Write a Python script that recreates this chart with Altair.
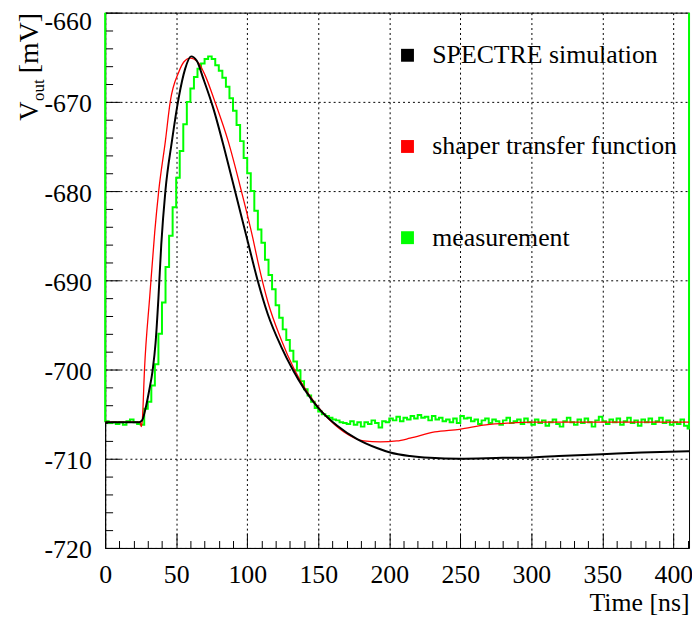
import altair as alt
import pandas as pd

series_names = ["SPECTRE simulation", "shaper transfer function", "measurement"]
series_colors = ["#000000", "#ff0000", "#00ff00"]

# SPECTRE simulation (black)
spectre_t = [0, 24, 26, 28.4, 30.7, 33.5, 35.5, 37.5, 39.5, 42.4, 47, 51.7, 56.3, 60.5, 64.5,
             69.1, 76.1, 84.3, 92.4, 100.6, 107.5, 114.5, 123.8, 132, 140.2, 150.6, 163.4,
             177.4, 191.3, 200.6, 214.6, 228.6, 249.5, 279.8, 300.8, 319.3, 349.6, 377.6, 411]
spectre_v = [-705.9, -705.9, -705.7, -704.4, -702.6, -700, -697, -692, -686, -680, -674.4,
             -669.6, -666.3, -664.9, -665.4, -667.4, -670.7, -675.5, -680.6, -685.8, -690.1,
             -693.8, -697.4, -700, -702.2, -704.4, -706.3, -707.8, -708.8, -709.3, -709.7,
             -709.9, -710, -709.9, -709.85, -709.7, -709.5, -709.3, -709.15]

# shaper transfer function (red)
shaper_t = [0, 24.5, 25.5, 26.2, 27.7, 31.4, 34.9, 37.7, 42.4, 45.8, 51.7, 55.5, 59.8, 65.6,
            70.3, 77.3, 86.6, 95.9, 104, 107.5, 114.5, 123.8, 133.2, 142.5, 154.1, 168.1,
            182, 193.7, 205.3, 214.6, 232, 249.5, 268, 284.4, 300.8, 411]
shaper_v = [-705.9, -705.9, -706.4, -705.6, -700, -691.8, -684.6, -680, -674.4, -670, -666.7,
            -665.5, -665.1, -665.6, -667, -670, -674.4, -680, -685.3, -687.9, -692.4, -696.6,
            -700, -702.6, -705, -707, -708, -708.1, -708, -707.7, -707, -706.7, -706.2, -706,
            -705.9, -705.9]

# measurement histogram (green), 2.5 ns bins starting at 0 ns
meas_bin = 2.5
meas_v = [
    -705.8, -706.0, -705.9, -706.1, -705.9, -706.2, -705.8, -705.6, -705.9, -706.1,
    -706.2, -704.4, -703.6, -701.8, -699.4, -696.0, -692.5, -688.5, -685.0, -681.8,
    -678.5, -675.5, -672.5, -670.0, -668.5, -667.2, -666.3, -665.7, -665.2, -664.9,
    -665.2, -665.9, -666.5, -667.3, -668.3, -669.6, -671.0, -672.6, -674.4, -676.3,
    -678.0, -680.0, -682.2, -684.3, -685.8, -687.7, -689.4, -691.0, -692.8, -694.2,
    -695.5, -696.7, -697.9, -699.1, -700.1, -701.3, -702.2, -702.9, -703.6, -704.3,
    -704.7, -705.0, -705.2, -705.4, -705.6, -705.7, -705.9, -706.0, -706.1, -705.8,
    -706.2, -705.9, -706.4, -705.9, -706.1, -705.7, -706.0, -706.5, -705.8, -705.9,
    -705.5, -705.7, -705.3, -705.8, -705.4, -705.6, -705.2, -705.5, -705.1, -705.4,
    -705.3, -705.7, -705.2, -705.6, -705.4, -705.8, -705.6, -705.9, -705.5, -706.0,
    -705.2, -705.5, -705.4, -705.8, -705.6, -706.1, -705.7, -705.5, -706.0, -705.6,
    -705.8, -706.2, -705.7, -705.4, -706.0, -705.8, -705.6, -706.1, -705.5, -705.9,
    -706.2, -705.6, -706.0, -705.7, -706.3, -705.9, -705.6, -706.1, -706.4, -705.8,
    -705.4, -705.9, -706.2, -705.6, -706.0, -705.5, -705.9, -706.4, -705.7, -705.3,
    -705.8, -706.1, -705.6, -705.9, -705.5, -706.2, -705.8, -705.4, -706.0, -705.7,
    -706.3, -705.6, -705.9, -705.5, -706.1, -705.8, -705.4, -706.0, -705.7, -706.2,
    -705.9, -706.1, -705.6, -706.3, -706.6,
]
x_max = 411
y_min, y_max = -720, -660

x_ticks = list(range(0, 411, 10))
y_ticks = list(range(-720, -659, 2))

# ---- build tables ----
df_black = pd.DataFrame({"t": spectre_t, "v": spectre_v, "series": series_names[0]})
df_black["i"] = range(len(df_black))
df_red = pd.DataFrame({"t": shaper_t, "v": shaper_v, "series": series_names[1]})
df_red["i"] = range(len(df_red))
# ROOT-style histogram outline: starts and ends at zero (clamped to the top of the frame)
mt = [0.0] + [k * meas_bin for k in range(len(meas_v))] + [x_max]
mv = [0.0] + meas_v + [0.0]
df_green = pd.DataFrame({"t": mt, "v": mv, "series": series_names[2]})
df_green["i"] = range(len(df_green))

SERIF = "Liberation Serif"

color_scale = alt.Scale(domain=series_names, range=series_colors)
x_scale = alt.Scale(domain=[0, x_max], nice=False, zero=False)
y_scale = alt.Scale(domain=[y_min, y_max], nice=False, zero=False, clamp=True)

x_axis = alt.Axis(
    values=x_ticks, tickCount=200,
    labelExpr="datum.value % 50 === 0 ? toString(datum.value) : ''",
    tickSize={"condition": {"test": "datum.value % 50 === 0", "value": -15}, "value": -7.5},
    gridOpacity={"condition": {"test": "datum.value % 50 === 0", "value": 1}, "value": 0},
    labelPadding=29,
    labelFont=SERIF, labelFontSize=26, labelColor="black",
    labelFlush=False, labelOverlap=False,
    title="Time [ns]", titleFont=SERIF, titleFontSize=26, titleFontWeight="normal",
    titleAnchor="end", titleAlign="right", titlePadding=-5, titleColor="black",
    zindex=0,
)
y_axis = alt.Axis(
    values=y_ticks, tickCount=200,
    labelExpr="datum.value % 10 === 0 ? toString(datum.value) : ''",
    tickSize={"condition": {"test": "datum.value % 10 === 0", "value": -15}, "value": -7.5},
    gridOpacity={"condition": {"test": "datum.value % 10 === 0", "value": 1}, "value": 0},
    labelBaseline={"condition": {"test": "datum.value === -660", "value": "line-top"}, "value": "middle"},
    labelLineHeight=15,
    labelOffset=2,
    labelPadding=29,
    labelFont=SERIF, labelFontSize=26, labelColor="black",
    labelFlush=False, labelOverlap=False,
    title=None,
    zindex=0,
)

legend = alt.Legend(
    title=None, orient="none", legendX=292, legendY=30,
    symbolType="square", symbolSize=36, symbolStrokeWidth=7,
    labelFont=SERIF, labelFontSize=26, labelColor="black",
    labelOffset=12, rowPadding=58, labelLimit=400,
)

green = alt.Chart(df_green).mark_line(interpolate="step-after", strokeWidth=2).encode(
    x=alt.X("t:Q", scale=x_scale, axis=x_axis),
    y=alt.Y("v:Q", scale=y_scale, axis=y_axis),
    color=alt.Color("series:N", scale=color_scale, legend=legend),
    order=alt.Order("i:Q"),
)
red = alt.Chart(df_red).mark_line(interpolate="monotone", strokeWidth=1.3, clip=True).encode(
    x=alt.X("t:Q", scale=x_scale),
    y=alt.Y("v:Q", scale=y_scale),
    color=alt.Color("series:N", scale=color_scale, legend=legend),
    order=alt.Order("i:Q"),
)
black = alt.Chart(df_black).mark_line(interpolate="monotone", strokeWidth=2, clip=True).encode(
    x=alt.X("t:Q", scale=x_scale),
    y=alt.Y("v:Q", scale=y_scale),
    color=alt.Color("series:N", scale=color_scale, legend=legend),
    order=alt.Order("i:Q"),
)

# y-axis title with subscript: V_out [mV]
title_df = pd.DataFrame({"k": [0]})
t_v = alt.Chart(title_df).mark_text(
    text="V", angle=270, align="left", baseline="alphabetic", font=SERIF, fontSize=27, color="black"
).encode(x=alt.value(-68), y=alt.value(109))
t_out = alt.Chart(title_df).mark_text(
    text="out", angle=270, align="left", baseline="alphabetic", font=SERIF, fontSize=17, color="black"
).encode(x=alt.value(-62), y=alt.value(89))
t_mv = alt.Chart(title_df).mark_text(
    text="[mV]", angle=270, align="left", baseline="alphabetic", font=SERIF, fontSize=28, color="black"
).encode(x=alt.value(-68), y=alt.value(61))

chart = alt.layer(green, red, black, t_v, t_out, t_mv).properties(
    width=589, height=540,
    autosize=alt.AutoSizeParams(type="none"),
    padding={"left": 98, "top": 2, "right": 3, "bottom": 73},
    background="white",
).configure_view(
    stroke="black", strokeWidth=1,
).configure_axis(
    domainColor="black", domainWidth=1, tickColor="black", tickWidth=1,
    gridColor="black", gridDash=[2, 3], gridWidth=1,
)

chart.save("out.html", embed_options={"renderer": "svg", "actions": False})
